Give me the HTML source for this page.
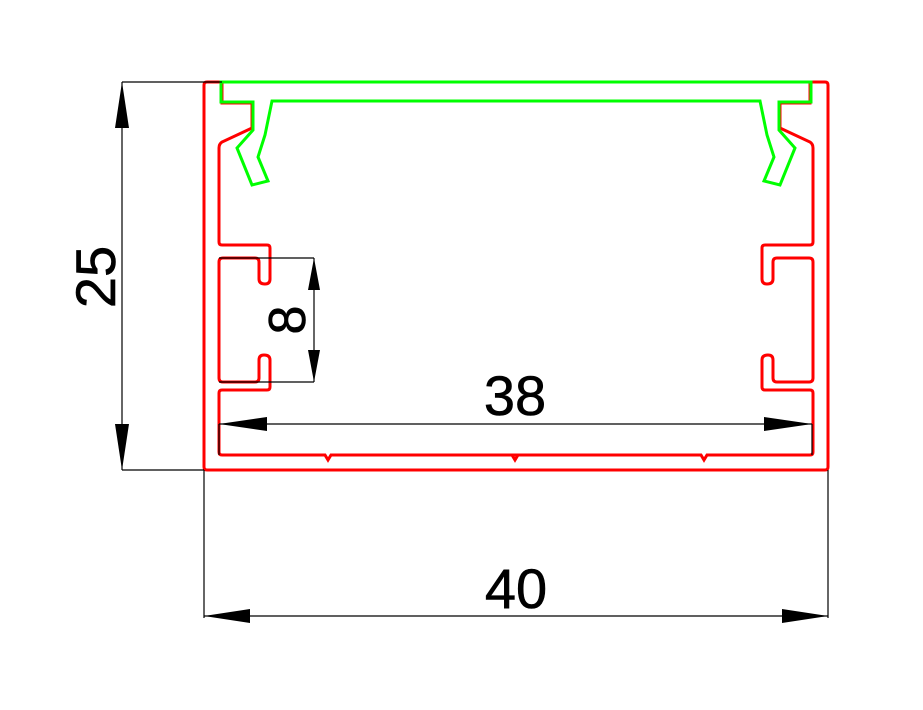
<!DOCTYPE html>
<html><head><style>html,body{margin:0;padding:0;background:#fff;}svg{display:block}</style></head>
<body>
<svg width="923" height="710" viewBox="0 0 923 710" xmlns="http://www.w3.org/2000/svg">
<defs>
<g id="red">
<path d="M222,82 H207 Q204,82 204,85 V467 Q204,470 207,470 H516" fill="none" stroke="#f00" stroke-width="3"/>
<path d="M222,82 V103 H252 V128 L222,142 Q219,144 219,148 V242 Q219,245 222,245 H267 Q270,245 270,248 V279 Q270,284 265,284 Q259,284 259,279 V262 Q259,258 255,258 H223 Q219,258 219,262 V378 Q219,382 223,382 H255 Q259,382 259,378 V360 Q259,355 264,355 Q270,355 270,360 V387 Q270,390 267,390 H222 Q219,390 219,393 V452 Q219,455 222,455 H325 L328,460 L331,455 H516" fill="none" stroke="#f00" stroke-width="3"/>
<path d="M516,82 H221 V102 H253 V130 L237,148 L252,185 L268,181 L258,157 L265,135 L272,101 H516" fill="none" stroke="#0f0" stroke-width="3"/>
</g>
</defs>
<use href="#red"/>
<use href="#red" transform="translate(1032,0) scale(-1,1)"/>
<path d="M512,455 L515,460 L518,455" fill="none" stroke="#f00" stroke-width="3"/>
<g stroke="#000" stroke-width="1.2" fill="none">
<path d="M122,82 H222 M122,470 H204 M122,82 V470"/>
<path d="M204,470 V618 M828,470 V618 M204,616 H828"/>
<path d="M219,424 H812 M219,424 V455 M812,424 V455"/>
<path d="M219,258 H314 M219,382 H314 M314,258 V382"/>
</g>
<g fill="#000">
<polygon points="122,82 115,128 129,128"/>
<polygon points="122,470 115,424 129,424"/>
<polygon points="204,616 250,609 250,623"/>
<polygon points="828,616 782,609 782,623"/>
<polygon points="219,424 267,417 267,431"/>
<polygon points="812,424 764,417 764,431"/>
<polygon points="314,258 308,290 320,290"/>
<polygon points="314,382 308,350 320,350"/>
</g>
<g font-family="Liberation Sans, sans-serif" fill="#000" stroke="#000" stroke-width="0.6">
<text x="516" y="608" font-size="56" text-anchor="middle">40</text>
<text x="515" y="415" font-size="56" text-anchor="middle">38</text>
<text transform="translate(115,277) rotate(-90)" font-size="56" text-anchor="middle">25</text>
<text transform="translate(305,320) rotate(-90)" font-size="52" text-anchor="middle">8</text>
</g>
</svg>
</body></html>
